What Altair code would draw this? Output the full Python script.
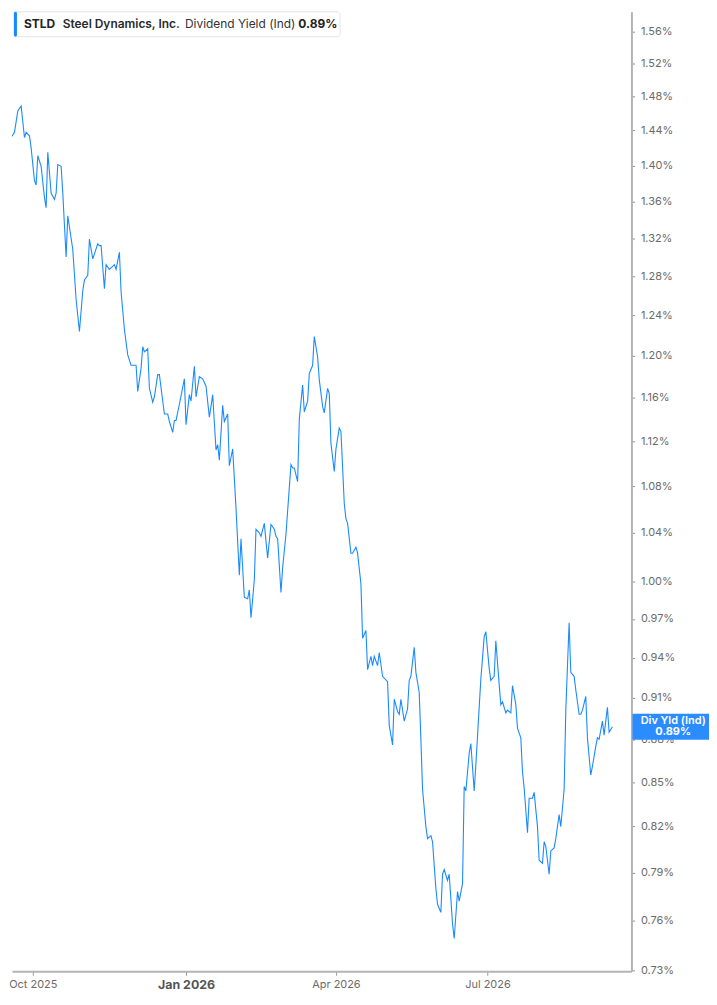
import altair as alt
import pandas as pd

# ---- data ----
dates_2025 = [
    "2025-09-14", "2025-09-15", "2025-09-16", "2025-09-17", "2025-09-19", "2025-09-20",
    "2025-09-22", "2025-09-24", "2025-09-26", "2025-09-27", "2025-09-29", "2025-09-30",
    "2025-10-02", "2025-10-03", "2025-10-04", "2025-10-06", "2025-10-08", "2025-10-09",
    "2025-10-10", "2025-10-12", "2025-10-14", "2025-10-15", "2025-10-16", "2025-10-18",
    "2025-10-19", "2025-10-21", "2025-10-22", "2025-10-25", "2025-10-27", "2025-10-29",
    "2025-10-31",
    "2025-11-01", "2025-11-03", "2025-11-04", "2025-11-06", "2025-11-09", "2025-11-10",
    "2025-11-11", "2025-11-13", "2025-11-14", "2025-11-16", "2025-11-19", "2025-11-20",
    "2025-11-22", "2025-11-23", "2025-11-25", "2025-11-27", "2025-11-29",
    "2025-12-02", "2025-12-03", "2025-12-05", "2025-12-06", "2025-12-07", "2025-12-09",
    "2025-12-10", "2025-12-12", "2025-12-13", "2025-12-15", "2025-12-16", "2025-12-18",
    "2025-12-19", "2025-12-21", "2025-12-22", "2025-12-24", "2025-12-25", "2025-12-26",
    "2025-12-28", "2025-12-31",
]
yield_2025 = [
    1.490, 1.431, 1.459, 1.430, 1.435, 1.438, 1.463, 1.469, 1.432, 1.438, 1.434, 1.420,
    1.383, 1.378, 1.411, 1.399, 1.364, 1.353, 1.415, 1.369, 1.362, 1.369, 1.401, 1.399,
    1.369, 1.300, 1.344, 1.308, 1.256, 1.224, 1.265,
    1.276, 1.281, 1.319, 1.298, 1.314, 1.312, 1.312, 1.267, 1.292, 1.287, 1.292, 1.287,
    1.305, 1.264, 1.226, 1.201, 1.191,
    1.191, 1.166, 1.188, 1.209, 1.204, 1.207, 1.169, 1.156, 1.161, 1.182, 1.182, 1.157,
    1.145, 1.145, 1.138, 1.128, 1.139, 1.139, 1.154, 1.178,
]
dates_2026 = [
    "2026-01-01", "2026-01-03", "2026-01-04", "2026-01-06", "2026-01-07", "2026-01-09",
    "2026-01-11", "2026-01-13", "2026-01-15", "2026-01-16", "2026-01-17", "2026-01-19",
    "2026-01-20", "2026-01-21", "2026-01-23", "2026-01-24", "2026-01-26", "2026-01-27",
    "2026-01-29", "2026-01-31",
    "2026-02-02", "2026-02-03", "2026-02-05", "2026-02-07", "2026-02-08", "2026-02-09",
    "2026-02-11", "2026-02-12", "2026-02-14", "2026-02-15", "2026-02-17", "2026-02-18",
    "2026-02-19", "2026-02-21", "2026-02-23", "2026-02-24", "2026-02-25", "2026-02-27",
    "2026-02-28",
    "2026-03-02", "2026-03-05", "2026-03-06", "2026-03-07", "2026-03-09", "2026-03-10",
    "2026-03-12", "2026-03-13", "2026-03-15", "2026-03-16", "2026-03-18", "2026-03-19",
    "2026-03-21", "2026-03-22", "2026-03-24", "2026-03-25", "2026-03-27", "2026-03-28",
    "2026-03-29", "2026-03-31",
    "2026-04-01", "2026-04-03", "2026-04-04", "2026-04-06", "2026-04-07", "2026-04-08",
    "2026-04-10", "2026-04-11", "2026-04-13", "2026-04-14", "2026-04-16", "2026-04-17",
    "2026-04-19", "2026-04-20", "2026-04-22", "2026-04-23", "2026-04-24", "2026-04-26",
    "2026-04-27", "2026-04-29",
    "2026-05-02", "2026-05-03", "2026-05-05", "2026-05-06", "2026-05-08", "2026-05-09",
    "2026-05-10", "2026-05-12", "2026-05-14", "2026-05-15", "2026-05-16", "2026-05-18",
    "2026-05-19", "2026-05-21", "2026-05-22", "2026-05-23", "2026-05-25", "2026-05-26",
    "2026-05-28", "2026-05-29", "2026-05-31",
    "2026-06-01", "2026-06-03", "2026-06-04", "2026-06-05", "2026-06-07", "2026-06-08",
    "2026-06-10", "2026-06-11", "2026-06-13", "2026-06-14", "2026-06-16", "2026-06-17",
    "2026-06-18", "2026-06-20", "2026-06-21", "2026-06-23", "2026-06-24", "2026-06-26",
    "2026-06-27", "2026-06-29", "2026-06-30",
    "2026-07-02", "2026-07-03", "2026-07-05", "2026-07-06", "2026-07-08", "2026-07-09",
    "2026-07-10", "2026-07-12", "2026-07-13", "2026-07-15", "2026-07-16", "2026-07-18",
    "2026-07-19", "2026-07-21", "2026-07-22", "2026-07-23", "2026-07-25", "2026-07-26",
    "2026-07-28", "2026-07-29", "2026-07-31",
    "2026-08-01", "2026-08-03", "2026-08-04", "2026-08-05", "2026-08-07", "2026-08-08",
    "2026-08-10", "2026-08-11", "2026-08-13", "2026-08-14", "2026-08-16", "2026-08-17",
    "2026-08-19", "2026-08-20", "2026-08-22", "2026-08-23", "2026-08-25", "2026-08-26",
    "2026-08-27", "2026-08-29", "2026-08-30",
    "2026-09-01", "2026-09-02", "2026-09-04", "2026-09-05", "2026-09-06", "2026-09-08",
    "2026-09-09", "2026-09-11", "2026-09-12", "2026-09-14",
]
yield_2026 = [
    1.135, 1.163, 1.157, 1.190, 1.161, 1.180, 1.178, 1.171, 1.142, 1.152, 1.163, 1.112,
    1.117, 1.103, 1.153, 1.138, 1.145, 1.098, 1.113, 1.061,
    1.005, 1.035, 0.987, 0.986, 0.993, 0.971, 1.001, 1.043, 1.040, 1.037, 1.048, 1.033,
    1.019, 1.047, 1.043, 1.037, 1.035, 0.991, 1.011,
    1.039, 1.099, 1.096, 1.096, 1.084, 1.140, 1.172, 1.147, 1.157, 1.183, 1.191, 1.219,
    1.199, 1.177, 1.152, 1.146, 1.169, 1.164, 1.118, 1.093,
    1.113, 1.132, 1.129, 1.065, 1.052, 1.048, 1.023, 1.023, 1.028, 1.023, 0.998, 0.955,
    0.961, 0.931, 0.941, 0.934, 0.941, 0.934, 0.944, 0.926,
    0.922, 0.890, 0.876, 0.909, 0.900, 0.898, 0.909, 0.893, 0.902, 0.923, 0.926, 0.948,
    0.929, 0.914, 0.880, 0.845, 0.820, 0.812, 0.814, 0.810, 0.780,
    0.770, 0.765, 0.789, 0.792, 0.785, 0.789, 0.758, 0.749, 0.778, 0.772, 0.783, 0.847,
    0.844, 0.870, 0.877, 0.844, 0.862, 0.903, 0.924, 0.956, 0.960,
    0.932, 0.923, 0.926, 0.953, 0.920, 0.905, 0.907, 0.899, 0.901, 0.899, 0.919, 0.905,
    0.888, 0.881, 0.857, 0.846, 0.816, 0.839, 0.839, 0.843, 0.820,
    0.798, 0.796, 0.810, 0.807, 0.789, 0.804, 0.806, 0.812, 0.828, 0.820, 0.845, 0.901,
    0.967, 0.929, 0.926, 0.916, 0.898, 0.898, 0.901, 0.911, 0.881,
    0.855, 0.861, 0.875, 0.881, 0.880, 0.893, 0.883, 0.903, 0.885, 0.889,
]

y_ticks = [1.56, 1.52, 1.48, 1.44, 1.40, 1.36, 1.32, 1.28, 1.24, 1.20, 1.16, 1.12,
           1.08, 1.04, 1.00, 0.97, 0.94, 0.91, 0.88, 0.85, 0.82, 0.79, 0.76, 0.73]
x_tick_months = [(2025, 10), (2026, 1), (2026, 4), (2026, 7)]

ticker = "STLD"
company = "Steel Dynamics, Inc."
metric = "Dividend Yield (Ind)"
metric_short = "Div Yld (Ind)"
last_value = yield_2026[-1]
last_label = f"{last_value:.2f}%"

BLUE = "#1a8aff"
AXIS_GRAY = "#b4b4b4"
LABEL_GRAY = "#6b6b6b"
FONT = "Inter"

df = pd.DataFrame({"date": dates_2025 + dates_2026, "yld": yield_2025 + yield_2026})
last_df = pd.DataFrame({"date": [dates_2026[-1]], "yld": [last_value]})
one = pd.DataFrame({"k": [0]})

W, H = 623, 965

x_scale = alt.Scale(
    type="utc",
    domain=[alt.DateTime(year=2025, month=9, date=18, hours=12, utc=True),
            alt.DateTime(year=2026, month=9, date=25, hours=10, utc=True)],
)
y_scale = alt.Scale(type="log", domain=[0.72938, 1.5853], nice=False, zero=False)

x_axis = alt.Axis(
    values=[alt.DateTime(year=y, month=m, date=1, utc=True) for y, m in x_tick_months],
    labelExpr="utcFormat(datum.value, '%b %Y')",
    labelFontWeight=alt.expr("utcmonth(datum.value) == 0 ? 'bold' : 'normal'"),
    labelFontSize=alt.expr("utcmonth(datum.value) == 0 ? 12.5 : 11"),
    labelColor=alt.expr("utcmonth(datum.value) == 0 ? '#555555' : '#6b6b6b'"),
    labelFont=FONT,
    labelPadding=3,
    title=None,
    grid=False,
    domainColor=AXIS_GRAY,
    domainWidth=2,
    tickColor="#999999",
    tickSize=4,
    labelFlush=False,
    labelOverlap=False,
)
y_axis = alt.Axis(
    orient="right",
    values=y_ticks,
    labelExpr="format(datum.value, '.2f') + '%'",
    labelFont=FONT,
    labelFontSize=11,
    labelColor=LABEL_GRAY,
    labelPadding=6,
    title=None,
    grid=False,
    domainColor=AXIS_GRAY,
    domainWidth=2,
    tickColor="#8a8a8a",
    tickSize=3,
    labelOverlap=False,
    labelFlush=False,
)

line = alt.Chart(df).mark_line(color=BLUE, strokeWidth=1.1, clip=True).encode(
    x=alt.X("date:T", scale=x_scale, axis=x_axis),
    y=alt.Y("yld:Q", scale=y_scale, axis=y_axis),
)

# header legend box
box = alt.Chart(one).mark_rect(fill="white", stroke="#e4e4e4", strokeWidth=1, cornerRadius=3).encode(
    x=alt.value(2), x2=alt.value(330), y=alt.value(0), y2=alt.value(25)
)
bar = alt.Chart(one).mark_rect(fill=BLUE, cornerRadius=2).encode(
    x=alt.value(2), x2=alt.value(5), y=alt.value(0), y2=alt.value(25)
)


def header_text(txt, xpos, weight, color="#222222"):
    return alt.Chart(one).mark_text(
        align="left", baseline="middle", font=FONT, fontSize=12,
        fontWeight=weight, color=color,
    ).encode(x=alt.value(xpos), y=alt.value(12.5), text=alt.value(txt))


t1 = header_text(ticker, 12, "bold")
t2 = header_text(company, 51, 600, "#2a2a2a")
t3 = header_text(metric, 174, "normal", "#333333")
t4 = header_text(last_label, 288, "bold")

# last-value tag at right
tag = alt.Chart(last_df).mark_rect(fill="#2b8cff", yOffset=-13, y2Offset=13).encode(
    x=alt.value(624), x2=alt.value(701),
    y=alt.Y("yld:Q", scale=y_scale), y2=alt.Y2("yld"),
)
tag_t1 = alt.Chart(last_df).mark_text(
    align="center", baseline="middle", font=FONT, fontSize=11, fontWeight=600,
    color="white", dy=-6,
).encode(x=alt.value(665), y=alt.Y("yld:Q", scale=y_scale), text=alt.value(metric_short))
tag_t2 = alt.Chart(last_df).mark_text(
    align="center", baseline="middle", font=FONT, fontSize=11, fontWeight="bold",
    color="white", dy=5,
).encode(x=alt.value(665), y=alt.Y("yld:Q", scale=y_scale), text=alt.value(last_label))

chart = alt.layer(line, box, bar, t1, t2, t3, t4, tag, tag_t1, tag_t2).properties(
    width=W, height=H, padding=0, background="white"
).configure_view(stroke=None)

chart.save("out.html", embed_options={"renderer": "svg", "actions": False})
